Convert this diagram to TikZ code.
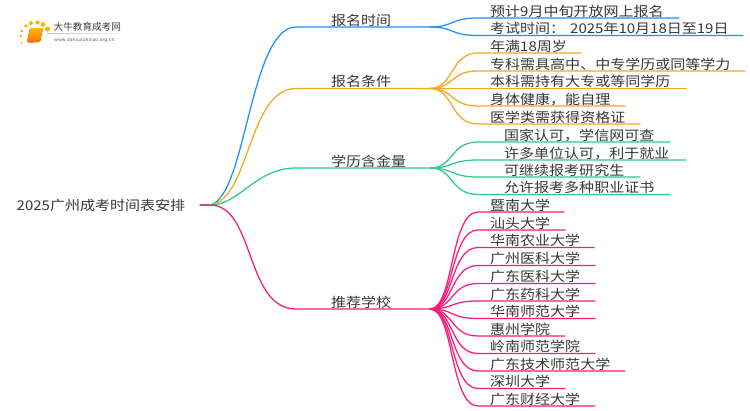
\documentclass[tikz,border=0pt]{standalone}
\usepackage{fontspec}
\newfontfamily\cjk[FakeStretch=1.12]{Noto Sans CJK SC}
\newfontfamily\cjkplain{Noto Sans CJK SC}
\setmainfont{DejaVu Sans}
\definecolor{cblue}{HTML}{1E90FF}
\definecolor{corange}{HTML}{F5A81C}
\definecolor{cgreen}{HTML}{2DCB86}
\definecolor{cpink}{HTML}{FF1A75}
\usetikzlibrary{shadings,calc}
\tikzset{
  x=1pt,y=-1pt,
  lab/.style={anchor=base west,inner sep=0pt,text=black!78,font=\fontsize{13.4}{14}\selectfont\cjk},
  wire/.style={line width=1.25pt,line cap=round},
}
% \leaf{colour}{name}{source}{y}{end x}{text x}{text}
\newcommand{\leaf}[7]{%
  \coordinate (#2s) at (478,#4);
  \coordinate (#2e) at (#5,#4);
  \node[lab] (#2) at (#6,#4-1.6) {#7};
  \draw[wire,#1] (#3) .. controls ($(#3)+(24,0)$) and ($(#2s)+(-28,0)$) .. (#2s) -- (#2e);
}
\newcommand{\branch}[6]{%
  \coordinate (#2a) at (296,#3);
  \coordinate (#2b) at (430,#3);
  \node[lab] (#2) at (331,#3-1.6) {#4};
  \draw[wire,#1] (root) .. controls (#5) and (#6) .. (#2a) -- (#2b);
}
\begin{document}
\begin{tikzpicture}
\useasboundingbox (0,0) rectangle (750,410);
\fill[white] (0,0) rectangle (750,410);
% logo
\foreach \p/\r in {{21.5,43}/1.2,{21,36}/1.4,{22,31}/1.6,{26,26}/1.8,{31,23}/2.0,{37.5,22.5}/2.2,{43,24.5}/2.3,{47.5,29}/2.5}
  \fill[orange!60!yellow] (\p) circle (\r);
\fill[rounded corners=1.5pt,top color=orange!55!yellow,bottom color=orange!90!red]
  (30,28) -- (43,28) -- (40,42) -- (27,42.5) -- cycle;
\draw[orange!85!red,line width=.8pt] (28,41) -- (40,40.5);
\fill[left color=black!25,right color=white] (47,33) rectangle (133,33.7);
\node[anchor=base west,inner sep=0pt,text=black!75,font=\fontsize{9.6}{10}\selectfont\cjkplain] (logotext) at (53.5,30.5) {大牛教育成考网};
\node[anchor=base west,inner sep=0pt,text=black!60,font=\fontsize{4.7}{5}\selectfont] (logourl) at (54,41) {www.daniuxuexiao.org.cn};
% root
\node[lab] (title) at (16.5,210.5) {2025广州成考时间表安排};
\coordinate (root) at (210,205);
\draw[wire,cpink!60!black!70] (200,205) -- (root);
% branches
\branch{cblue}{b1}{27}{报名时间}{246,198}{250,27}
\branch{corange}{b2}{88.5}{报名条件}{250,200}{248,88.5}
\branch{cgreen}{b3}{168}{学历含金量}{240,205}{255,168}
\branch{cpink}{b4}{309}{推荐学校}{255,205}{245,309}
% leaves
\leaf{cblue}{a1}{b1b}{18}{679}{490}{预计9月中旬开放网上报名}
\leaf{cblue}{a2}{b1b}{35.5}{743}{490}{考试时间：\hspace{5pt}2025年10月18日至19日}
\leaf{corange}{c1}{b2b}{53}{581}{490}{年满18周岁}
\leaf{corange}{c2}{b2b}{71}{745}{490}{专科需具高中、中专学历或同等学力}
\leaf{corange}{c3}{b2b}{88.5}{686}{490}{本科需持有大专或等同学历}
\leaf{corange}{c4}{b2b}{106}{625}{490}{身体健康，能自理}
\leaf{corange}{c5}{b2b}{124}{640}{490}{医学类需获得资格证}
\leaf{cgreen}{d1}{b3b}{142}{670}{504}{国家认可，学信网可查}
\leaf{cgreen}{d2}{b3b}{160}{686}{504}{许多单位认可，利于就业}
\leaf{cgreen}{d3}{b3b}{177}{640}{504}{可继续报考研究生}
\leaf{cgreen}{d4}{b3b}{194.5}{670}{504}{允许报考多种职业证书}
\leaf{cpink}{e1}{b4b}{212}{564}{490}{暨南大学}
\leaf{cpink}{e2}{b4b}{230}{565}{490}{汕头大学}
\leaf{cpink}{e3}{b4b}{247.5}{594}{490}{华南农业大学}
\leaf{cpink}{e4}{b4b}{265.5}{595}{490}{广州医科大学}
\leaf{cpink}{e5}{b4b}{283.5}{595}{490}{广东医科大学}
\leaf{cpink}{e6}{b4b}{301}{595}{490}{广东药科大学}
\leaf{cpink}{e7}{b4b}{318.5}{595}{490}{华南师范大学}
\leaf{cpink}{e8}{b4b}{336}{565}{490}{惠州学院}
\leaf{cpink}{e9}{b4b}{353.5}{595}{490}{岭南师范学院}
\leaf{cpink}{e10}{b4b}{371}{625}{490}{广东技术师范大学}
\leaf{cpink}{e11}{b4b}{388.5}{565}{490}{深圳大学}
\leaf{cpink}{e12}{b4b}{406}{595}{490}{广东财经大学}
\end{tikzpicture}
\end{document}
